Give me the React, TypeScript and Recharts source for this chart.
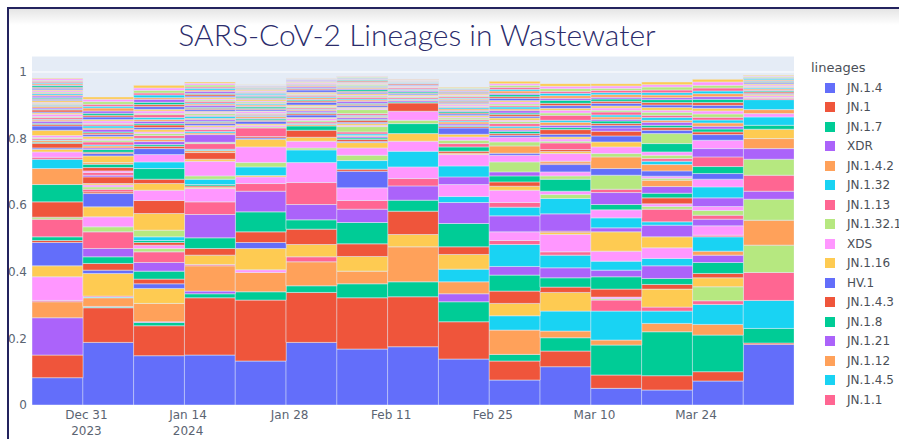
import { BarChart, Bar, XAxis, YAxis, CartesianGrid, Legend } from "recharts";

// plotly default colour cycle
const palette = ["#636EFA", "#EF553B", "#00CC96", "#AB63FA", "#FFA15A", "#19D3F3", "#FF6692", "#B6E880", "#FF97FF", "#FECB52"];

const lineageNames = [
  "JN.1.4", "JN.1", "JN.1.7", "XDR", "JN.1.4.2", "JN.1.32", "JN.1.13", "JN.1.32.1", "XDS", "JN.1.16",
  "HV.1", "JN.1.4.3", "JN.1.8", "JN.1.21", "JN.1.12", "JN.1.4.5", "JN.1.1", "JN.1.18", "JN.1.6", "JN.1.9",
  "JN.1.11.1", "JN.1.2", "JN.1.30", "JN.1.22", "JN.1.4.1", "JN.1.16.1", "JN.1.23", "JN.1.3", "JN.1.5", "JN.1.10",
  "JN.1.15", "JN.1.19", "JN.1.24", "JN.1.25", "JN.1.26", "JN.1.27", "JN.1.28", "JN.1.29", "JN.1.31", "JN.1.33",
  "JN.1.34", "JN.1.35", "JN.1.36", "JN.1.37", "JN.1.38", "JN.1.39", "JN.1.40", "JN.1.41", "JN.1.42", "JN.1.43",
  "JN.1.44", "JN.1.45", "JN.1.46", "JN.1.47", "JN.1.48", "JN.1.49", "JN.1.50", "JN.2", "JN.3", "JN.4",
  "JN.5", "JN.6", "JN.7", "JN.8", "JN.9", "JN.10", "HV.1.1", "HK.3", "HK.3.1", "HK.3.2",
  "JD.1.1", "JG.3", "EG.5.1", "EG.5.1.1", "GK.1.1", "BA.2.86.1", "HK.13", "JF.1", "XBB.1.16", "XBB.1.5",
];

const weekDates = [
  "2023-12-27", "2024-01-03", "2024-01-10", "2024-01-17", "2024-01-24", "2024-01-31", "2024-02-07", "2024-02-14",
  "2024-02-21", "2024-02-28", "2024-03-06", "2024-03-13", "2024-03-20", "2024-03-27", "2024-04-03",
];

const tickDates = ["2023-12-31", "2024-01-14", "2024-01-28", "2024-02-11", "2024-02-25", "2024-03-10", "2024-03-24"];
const tickLabels = [["Dec 31", "2023"], ["Jan 14", "2024"], ["Jan 28"], ["Feb 11"], ["Feb 25"], ["Mar 10"], ["Mar 24"]];

const yTicks = [0, 0.2, 0.4, 0.6, 0.8, 1];

// share of each lineage per week, in thousandths (one row per week, lineage order as above)
const weeklyShares = [
  [82, 68, 0, 112, 48, 0, 4, 0, 71, 33, 70, 6, 11, 0, 0, 0, 53, 6, 0, 0,
   0, 46, 52, 0, 48, 28, 6, 0, 16, 8, 4, 14, 3, 0, 5, 2, 4, 3, 6, 16,
   13, 5, 3, 6, 4, 2, 5, 3, 7, 4, 3, 6, 2, 4, 5, 3, 2, 4, 3, 5,
   4, 2, 3, 5, 3, 4, 2, 3, 4, 3, 4, 3, 5, 2, 4, 3, 4, 3, 5, 2],
  [188, 104, 2, 2, 26, 2, 3, 0, 0, 68, 10, 20, 20, 25, 0, 0, 50, 15, 30, 30,
   40, 5, 0, 0, 0, 0, 8, 7, 6, 4, 0, 20, 0, 5, 0, 0, 8, 0, 5, 0,
   0, 10, 10, 0, 5, 0, 0, 0, 0, 20, 7, 4, 8, 5, 6, 3, 9, 5, 4, 7,
   6, 5, 3, 8, 4, 6, 5, 3, 7, 4, 8, 5, 6, 7, 9, 5, 6, 8, 7, 7],
  [148, 90, 10, 2, 55, 0, 0, 0, 0, 45, 14, 14, 24, 26, 0, 0, 32, 10, 10, 0,
   0, 8, 6, 0, 0, 11, 0, 20, 0, 50, 0, 39, 0, 0, 0, 0, 0, 0, 31, 20,
   0, 13, 32, 0, 0, 20, 0, 0, 22, 0, 18, 7, 5, 9, 6, 4, 8, 6, 5, 7,
   6, 8, 4, 7, 5, 6, 9, 4, 7, 5, 8, 6, 7, 9, 5, 8, 6, 8, 7, 8],
  [150, 172, 12, 8, 76, 0, 4, 0, 0, 28, 0, 20, 32, 70, 0, 0, 38, 0, 40, 4,
   0, 4, 4, 0, 0, 16, 0, 10, 44, 6, 0, 20, 0, 0, 6, 4, 17, 4, 0, 0,
   0, 0, 0, 23, 5, 4, 6, 3, 5, 4, 6, 4, 3, 5, 4, 6, 3, 5, 4, 3,
   5, 4, 3, 6, 4, 3, 5, 4, 3, 5, 4, 5, 3, 6, 4, 5, 4, 6, 5, 4],
  [132, 183, 25, 0, 58, 0, 0, 0, 8, 64, 18, 32, 60, 62, 0, 0, 23, 0, 20, 4,
   0, 0, 0, 0, 0, 26, 0, 13, 47, 23, 4, 4, 0, 0, 0, 0, 26, 3, 5, 4,
   8, 3, 4, 2, 5, 3, 4, 3, 5, 2, 4, 3, 5, 2, 4, 3, 2, 4, 3, 5,
   3, 2, 4, 3, 2, 4, 3, 2, 3, 4, 2, 1, 2, 1, 2, 1, 2, 1, 1, 1],
  [188, 150, 20, 0, 72, 0, 15, 0, 0, 37, 0, 46, 28, 46, 0, 0, 66, 0, 60, 0,
   0, 0, 0, 0, 0, 38, 0, 6, 20, 12, 0, 21, 13, 0, 4, 3, 5, 4, 6, 3,
   8, 4, 3, 5, 3, 2, 4, 3, 2, 4, 8, 4, 3, 2, 5, 3, 4, 3, 2, 4,
   7, 3, 2, 4, 3, 2, 3, 2, 3, 2, 2, 1, 1, 2, 1, 1, 1, 1, 1, 1],
  [168, 154, 42, 0, 38, 0, 0, 0, 0, 44, 0, 38, 64, 40, 0, 0, 26, 0, 38, 0,
   50, 6, 0, 0, 0, 26, 0, 16, 22, 16, 3, 6, 5, 4, 3, 5, 6, 16, 4, 5,
   4, 6, 3, 5, 4, 3, 5, 12, 4, 3, 5, 4, 3, 6, 4, 3, 5, 4, 3, 4,
   4, 3, 5, 3, 4, 3, 2, 4, 3, 3, 2, 3, 2, 2, 1, 2, 2, 2, 2, 1],
  [175, 150, 45, 0, 105, 0, 0, 0, 0, 37, 0, 70, 33, 43, 0, 0, 22, 0, 35, 0,
   0, 0, 0, 0, 0, 47, 0, 0, 30, 23, 0, 0, 30, 0, 0, 0, 0, 10, 27, 0,
   0, 25, 3, 4, 3, 2, 4, 3, 2, 3, 3, 2, 4, 3, 2, 3, 4, 2, 3, 2,
   2, 3, 2, 1, 2, 1, 2, 1, 2, 1, 0, 1, 0, 0, 1, 0, 0, 0, 0, 0],
  [138, 112, 60, 24, 36, 38, 0, 0, 0, 44, 0, 23, 70, 63, 0, 18, 0, 0, 36, 0,
   0, 0, 0, 23, 0, 33, 0, 0, 34, 4, 0, 6, 13, 0, 0, 0, 10, 10, 10, 8,
   19, 4, 3, 5, 6, 3, 4, 5, 3, 4, 5, 3, 4, 3, 5, 4, 3, 2, 4, 3,
   3, 4, 2, 3, 3, 2, 4, 3, 2, 3, 2, 3, 2, 2, 3, 2, 2, 2, 1, 2],
  [75, 57, 20, 0, 73, 43, 0, 0, 0, 37, 0, 37, 48, 26, 0, 66, 12, 0, 26, 0,
   0, 0, 0, 48, 0, 26, 14, 0, 37, 12, 0, 13, 18, 12, 0, 0, 0, 30, 20, 0,
   6, 0, 0, 0, 22, 0, 0, 12, 14, 0, 6, 5, 7, 4, 6, 5, 8, 6, 4, 7,
   5, 6, 4, 7, 5, 6, 4, 5, 6, 4, 7, 5, 6, 4, 7, 5, 6, 6, 5, 7],
  [115, 47, 40, 0, 20, 60, 0, 0, 0, 56, 0, 16, 28, 30, 0, 38, 10, 0, 52, 6,
   0, 4, 0, 52, 0, 46, 0, 12, 10, 0, 0, 0, 36, 0, 0, 0, 0, 10, 12, 0,
   22, 4, 0, 0, 6, 0, 0, 0, 23, 6, 0, 6, 0, 0, 0, 0, 20, 5, 7, 6,
   8, 14, 6, 7, 9, 6, 15, 7, 8, 6, 8, 7, 9, 6, 8, 7, 6, 8, 7, 8],
  [50, 40, 90, 0, 15, 87, 33, 4, 5, 0, 0, 24, 37, 20, 0, 27, 0, 0, 30, 58,
   0, 0, 0, 12, 0, 30, 0, 0, 24, 0, 0, 0, 16, 36, 0, 0, 10, 42, 0, 0,
   20, 0, 0, 0, 35, 0, 0, 10, 20, 15, 18, 14, 0, 10, 0, 0, 0, 0, 0, 0,
   7, 6, 8, 5, 7, 6, 9, 5, 7, 6, 8, 6, 7, 5, 8, 6, 7, 6, 7, 7],
  [45, 43, 132, 0, 25, 37, 12, 0, 0, 54, 0, 14, 18, 38, 0, 22, 0, 0, 32, 33,
   0, 0, 0, 35, 0, 10, 38, 8, 8, 0, 0, 18, 14, 20, 19, 0, 0, 6, 6, 0,
   16, 0, 0, 0, 19, 10, 8, 10, 10, 0, 0, 0, 25, 0, 0, 0, 0, 30, 0, 0,
   10, 8, 7, 9, 6, 8, 7, 9, 6, 8, 8, 7, 9, 6, 8, 7, 8, 9, 7, 8],
  [72, 28, 110, 0, 32, 60, 11, 42, 0, 27, 0, 13, 33, 22, 12, 43, 5, 0, 28, 0,
   0, 0, 0, 20, 0, 0, 12, 14, 12, 0, 0, 0, 0, 26, 0, 33, 0, 0, 23, 0,
   17, 0, 21, 0, 0, 0, 29, 0, 0, 0, 0, 0, 0, 25, 0, 0, 0, 0, 25, 0,
   17, 8, 9, 8, 10, 9, 8, 10, 9, 8, 9, 8, 10, 8, 9, 8, 9, 8, 10, 8],
  [182, 4, 44, 0, 0, 84, 84, 82, 0, 0, 0, 0, 0, 0, 75, 0, 0, 63, 0, 0,
   0, 0, 0, 24, 0, 0, 48, 48, 0, 0, 0, 0, 0, 32, 30, 0, 0, 0, 0, 28,
   0, 0, 12, 0, 0, 25, 0, 0, 10, 0, 0, 0, 0, 0, 12, 30, 4, 3, 5, 4,
   3, 4, 3, 2, 4, 3, 2, 3, 4, 3, 3, 2, 3, 2, 3, 4, 2, 3, 2, 2],
];

const DAY = 86400000;
const toTime = (d: string) => Date.parse(d + "T00:00:00Z");
const tickTimes = tickDates.map(toTime);

const chartData = weekDates.map((d, w) => {
  const row: Record<string, number> = { t: toTime(d) };
  weeklyShares[w].forEach((v, i) => {
    row[`s${i}`] = v / 1000;
  });
  return row;
});

const xDomain = [toTime(weekDates[0]) - 3.5 * DAY, toTime(weekDates[weekDates.length - 1]) + 3.5 * DAY];

const axisFont = "DejaVu Sans, Verdana, sans-serif";
const tickColor = "#5b6472";

function DateTick(props: any) {
  const { x, y, payload } = props;
  const lines = tickLabels[tickTimes.indexOf(payload.value)] ?? [];
  return (
    <text x={x} y={y} textAnchor="middle" fill={tickColor} fontSize={12} fontFamily={axisFont}>
      {lines.map((l, i) => (
        <tspan key={i} x={x} dy={i === 0 ? 14 : 16}>
          {l}
        </tspan>
      ))}
    </text>
  );
}

function LineageLegend() {
  return (
    <div style={{ fontFamily: axisFont, color: "#4a4f58", width: 91, height: 352, overflow: "hidden" }}>
      <div style={{ fontSize: 13, height: 20, lineHeight: "20px", marginLeft: 3 }}>lineages</div>
      {lineageNames.slice(0, 17).map((n, i) => (
        <div key={n} style={{ display: "flex", alignItems: "center", height: 19.5 }}>
          <span style={{ width: 10, height: 10, background: palette[i % 10], marginLeft: 17, marginRight: 12, flexShrink: 0 }} />
          <span style={{ fontSize: 12, whiteSpace: "nowrap" }}>{n}</span>
        </div>
      ))}
    </div>
  );
}

export default function App() {
  return (
    <div style={{ position: "absolute", left: 0, top: 0, width: 899, height: 439, overflow: "hidden", background: "#fff" }}>
      <BarChart
        width={899}
        height={439}
        data={chartData}
        margin={{ top: 56, right: 105, left: 0, bottom: 0 }}
        barCategoryGap={0}
        barGap={0}
      >
        <CartesianGrid fill="#E5ECF6" stroke="#ffffff" vertical={false} />
        <XAxis
          dataKey="t"
          type="number"
          domain={xDomain}
          ticks={tickTimes}
          interval={0}
          allowDataOverflow
          height={34}
          axisLine={false}
          tickLine={false}
          tickSize={0}
          tickMargin={0}
          tick={<DateTick />}
        />
        <YAxis
          type="number"
          domain={[0, 1.048]}
          ticks={yTicks}
          interval={0}
          allowDataOverflow
          width={32}
          axisLine={false}
          tickLine={false}
          tickSize={0}
          tickMargin={5}
          tick={{ fill: tickColor, fontSize: 12, fontFamily: axisFont }}
        />
        {lineageNames.map((n, i) => (
          <Bar
            key={n}
            dataKey={`s${i}`}
            name={n}
            stackId="a"
            fill={palette[i % 10]}
            stroke="#E5ECF6"
            strokeWidth={0.5}
            isAnimationActive={false}
          />
        ))}
        <Legend
          layout="vertical"
          align="center"
          verticalAlign="middle"
          wrapperStyle={{ left: 808, top: 58, width: 91 }}
          content={() => <LineageLegend />}
        />
      </BarChart>
      <div
        style={{
          position: "absolute",
          left: 0,
          top: 16,
          width: 834,
          textAlign: "center",
          fontFamily: "Lato, sans-serif",
          fontWeight: 300,
          fontSize: 30,
          lineHeight: "36px",
          color: "#2b2c6b",
        }}
      >
        SARS-CoV-2 Lineages in Wastewater
      </div>
      <div style={{ position: "absolute", left: 9, top: 9, width: 890, height: 16, background: "linear-gradient(rgba(0,0,0,0.10), rgba(0,0,0,0))" }} />
      <div style={{ position: "absolute", left: 7, top: 7, width: 892, height: 2, background: "#23235e" }} />
      <div style={{ position: "absolute", left: 7, top: 7, width: 2, height: 432, background: "#23235e" }} />
    </div>
  );
}
